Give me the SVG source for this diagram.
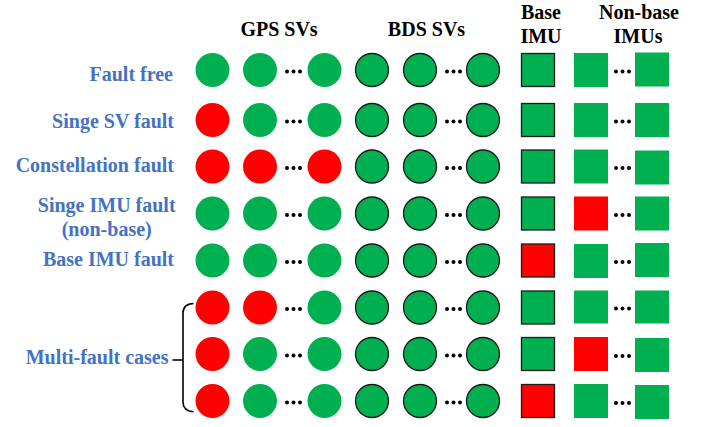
<svg xmlns="http://www.w3.org/2000/svg" width="713" height="427" viewBox="0 0 713 427">
<style>
text{font-family:"Liberation Serif","Times New Roman",serif;font-weight:bold;font-size:20px}
.hd{fill:#000;text-anchor:middle}
.lb{fill:#4472C4;text-anchor:end}
.lc{fill:#4472C4;text-anchor:middle}
.g{fill:#00B050}
.r{fill:#FF0000}
.bd{stroke:#1a1a1a;stroke-width:1.3}
.dot{fill:#000}
.br{fill:none;stroke:#000;stroke-width:1.6}
</style>
<defs>
<g id="dots3"><circle cx="0" cy="0" r="2" class="dot"/><circle cx="6.5" cy="0" r="2" class="dot"/><circle cx="13" cy="0" r="2" class="dot"/></g>
</defs>
<g id="headers">
<text class="hd" x="279" y="36">GPS SVs</text>
<text class="hd" x="426.5" y="36">BDS SVs</text>
<text class="hd" x="541" y="19">Base</text>
<text class="hd" x="541" y="43">IMU</text>
<text class="hd" x="639" y="19">Non-base</text>
<text class="hd" x="638" y="43">IMUs</text>
</g>
<g id="labels">
<text class="lb" x="173" y="80.5">Fault free</text>
<text class="lb" x="174" y="127.5">Singe SV fault</text>
<text class="lb" x="174" y="172">Constellation fault</text>
<text class="lc" x="106.7" y="211.5">Singe IMU fault</text>
<text class="lc" x="106.7" y="235.5">(non-base)</text>
<text class="lb" x="174" y="266">Base IMU fault</text>
<text class="lb" x="168.5" y="364">Multi-fault cases</text>
</g>
<g id="connectors">
<path class="br" d="M193.5,303.5 Q183,304 183,313 L183,402 Q183,411 193.5,411.8"/>
<path class="br" d="M172.5,360 L183,360"/>
</g>
<g id="row1" transform="translate(0,70)">
<circle cx="212.5" cy="0" r="17" class="g"/><circle cx="260" cy="0" r="17" class="g"/><use href="#dots3" x="287" y="1.5"/><circle cx="324.5" cy="0" r="17" class="g"/>
<circle cx="372" cy="0" r="16.5" class="g bd"/><circle cx="420" cy="0" r="16.5" class="g bd"/><use href="#dots3" x="447" y="1.5"/><circle cx="483" cy="0" r="16.5" class="g bd"/>
<rect x="521.5" y="-16.5" width="33" height="33" class="g bd"/>
<rect x="574" y="-17" width="34" height="34" class="g"/><use href="#dots3" x="616" y="1.5"/><rect x="635" y="-17.5" width="34" height="34" class="g"/>
</g>
<g id="row2" transform="translate(0,120)">
<circle cx="212.5" cy="0" r="17" class="r"/><circle cx="260" cy="0" r="17" class="g"/><use href="#dots3" x="287" y="1.5"/><circle cx="324.5" cy="0" r="17" class="g"/>
<circle cx="372" cy="0" r="16.5" class="g bd"/><circle cx="420" cy="0" r="16.5" class="g bd"/><use href="#dots3" x="447" y="1.5"/><circle cx="483" cy="0" r="16.5" class="g bd"/>
<rect x="521.5" y="-16.5" width="33" height="33" class="g bd"/>
<rect x="574" y="-17" width="34" height="34" class="g"/><use href="#dots3" x="616" y="1.5"/><rect x="635" y="-17" width="34" height="34" class="g"/>
</g>
<g id="row3" transform="translate(0,166.5)">
<circle cx="212.5" cy="0" r="17" class="r"/><circle cx="260" cy="0" r="17" class="r"/><use href="#dots3" x="287" y="1.5"/><circle cx="324.5" cy="0" r="17" class="r"/>
<circle cx="372" cy="0" r="16.5" class="g bd"/><circle cx="420" cy="0" r="16.5" class="g bd"/><use href="#dots3" x="447" y="1.5"/><circle cx="483" cy="0" r="16.5" class="g bd"/>
<rect x="521.5" y="-16.5" width="33" height="33" class="g bd"/>
<rect x="574" y="-17" width="34" height="34" class="g"/><use href="#dots3" x="616" y="1.5"/><rect x="635" y="-16" width="34" height="34" class="g"/>
</g>
<g id="row4" transform="translate(0,213.5)">
<circle cx="212.5" cy="0" r="17" class="g"/><circle cx="260" cy="0" r="17" class="g"/><use href="#dots3" x="287" y="1.5"/><circle cx="324.5" cy="0" r="17" class="g"/>
<circle cx="372" cy="0" r="16.5" class="g bd"/><circle cx="420" cy="0" r="16.5" class="g bd"/><use href="#dots3" x="447" y="1.5"/><circle cx="483" cy="0" r="16.5" class="g bd"/>
<rect x="521.5" y="-16.5" width="33" height="33" class="g bd"/>
<rect x="574" y="-17" width="34" height="34" class="r"/><use href="#dots3" x="616" y="1.5"/><rect x="635" y="-17" width="34" height="34" class="g"/>
</g>
<g id="row5" transform="translate(0,260.5)">
<circle cx="212.5" cy="0" r="17" class="g"/><circle cx="260" cy="0" r="17" class="g"/><use href="#dots3" x="287" y="1.5"/><circle cx="324.5" cy="0" r="17" class="g"/>
<circle cx="372" cy="0" r="16.5" class="g bd"/><circle cx="420" cy="0" r="16.5" class="g bd"/><use href="#dots3" x="447" y="1.5"/><circle cx="483" cy="0" r="16.5" class="g bd"/>
<rect x="521.5" y="-16.5" width="33" height="33" class="r bd"/>
<rect x="574" y="-16.5" width="34" height="34" class="g"/><use href="#dots3" x="616" y="1.5"/><rect x="635" y="-17.5" width="34" height="34" class="g"/>
</g>
<g id="row6" transform="translate(0,307.5)">
<circle cx="212.5" cy="0" r="17" class="r"/><circle cx="260" cy="0" r="17" class="r"/><use href="#dots3" x="287" y="1.5"/><circle cx="324.5" cy="0" r="17" class="g"/>
<circle cx="372" cy="0" r="16.5" class="g bd"/><circle cx="420" cy="0" r="16.5" class="g bd"/><use href="#dots3" x="447" y="1.5"/><circle cx="483" cy="0" r="16.5" class="g bd"/>
<rect x="521.5" y="-16.5" width="33" height="33" class="g bd"/>
<rect x="574" y="-17" width="34" height="33" class="g"/><use href="#dots3" x="616" y="1"/><rect x="635" y="-17" width="34" height="33" class="g"/>
</g>
<g id="row7" transform="translate(0,354)">
<circle cx="212.5" cy="0" r="17" class="r"/><circle cx="260" cy="0" r="17" class="g"/><use href="#dots3" x="287" y="1.5"/><circle cx="324.5" cy="0" r="17" class="g"/>
<circle cx="372" cy="0" r="16.5" class="g bd"/><circle cx="420" cy="0" r="16.5" class="g bd"/><use href="#dots3" x="447" y="1.5"/><circle cx="483" cy="0" r="16.5" class="g bd"/>
<rect x="521.5" y="-16.5" width="33" height="33" class="g bd"/>
<rect x="574" y="-17" width="34" height="34" class="r"/><use href="#dots3" x="616" y="2"/><rect x="635" y="-16" width="34" height="34" class="g"/>
</g>
<g id="row8" transform="translate(0,401)">
<circle cx="212.5" cy="0" r="17" class="r"/><circle cx="260" cy="0" r="17" class="g"/><use href="#dots3" x="287" y="1.5"/><circle cx="324.5" cy="0" r="17" class="g"/>
<circle cx="372" cy="0" r="16.5" class="g bd"/><circle cx="420" cy="0" r="16.5" class="g bd"/><use href="#dots3" x="447" y="1.5"/><circle cx="483" cy="0" r="16.5" class="g bd"/>
<rect x="521.5" y="-16.5" width="33" height="33" class="r bd"/>
<rect x="574" y="-17" width="34" height="34" class="g"/><use href="#dots3" x="616" y="2"/><rect x="635" y="-16" width="34" height="34" class="g"/>
</g>
</svg>
